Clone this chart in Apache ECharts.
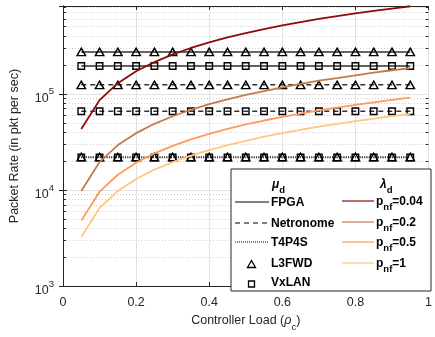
<!DOCTYPE html>
<html><head><meta charset="utf-8">
<script src="https://cdn.jsdelivr.net/npm/echarts@6/dist/echarts.min.js"></script>
<style>html,body{margin:0;padding:0;background:#fff}#c{width:435px;height:337px}</style>
</head><body><div id="c"></div>
<script>
// ---- data ----
const loads = [0.05,0.1,0.15,0.2,0.25,0.3,0.35,0.4,0.45,0.5,0.55,0.6,0.65,0.7,0.75,0.8,0.85,0.9,0.95];
const xTicks = [0, 0.2, 0.4, 0.6, 0.8, 1];
const yTicks = [1000, 10000, 100000];
// mu_d (service rate of switch), constant in controller load
const muNames = ['FPGA L3FWD','FPGA VxLAN','Netronome L3FWD','Netronome VxLAN','T4P4S L3FWD','T4P4S VxLAN'];
const muRates = [273000, 195000, 124000, 66000, 22000, 21800];
// lambda_d curves
const lamNames = ['p_nf=0.04','p_nf=0.2','p_nf=0.5','p_nf=1'];
const lamPnf004 = [43000,86000,129000,172000,214000,257000,300000,343000,386000,429000,472000,515000,558000,601000,643000,686000,729000,772000,815000];
const lamPnf02  = [9750,19500,29300,39000,48800,58500,68300,78000,87800,97500,107000,117000,127000,137000,146000,156000,166000,176000,185000];
const lamPnf05  = [4800,9600,14400,19200,24000,28800,33600,38400,43200,48000,52800,57600,62400,67200,72000,76800,81600,86400,91200];
const lamPnf1   = [3250,6500,9750,13000,16300,19500,22800,26000,29300,32500,35800,39000,42300,45500,48800,52000,55300,58500,61800];

const FONT = '"Liberation Sans", Arial, Helvetica, sans-serif';
const AX = '#262626';
const YMIN = 1000, YMAX = 820000;

const muStyles = [
  {type:'solid', symbol:'triangle'},
  {type:'solid', symbol:'rect'},
  {type:[5,4], symbol:'triangle'},
  {type:[5,4], symbol:'rect'},
  {type:[1,1.3], symbol:'triangle'},
  {type:[1,1.3], symbol:'rect'}
];
const lamColors = ['#8c0a0a','#c47a4b','#ff9a5c','#ffc77f'];
const lamData = [lamPnf004, lamPnf02, lamPnf05, lamPnf1];

// minor grid / tick positions
const minorVals = [];
for (let d = 1000; d < YMAX; d *= 10) for (let m = 2; m <= 9; m++) if (d*m < YMAX) minorVals.push(d*m);
const markData = [];
minorVals.forEach(v => {
  markData.push({yAxis: v, lineStyle: {color:'#cfcfcf', type:[1,2], width:1}});
});
minorVals.forEach(v => {
  markData.push([{coord:[0, v], lineStyle:{color:AX, type:'solid', width:1}}, {coord:[0.008, v]}]);
  markData.push([{coord:[0.992, v], lineStyle:{color:AX, type:'solid', width:1}}, {coord:[1, v]}]);
});

const series = [{
  type:'line', name:'grid', data:[[0.5, YMIN]], showSymbol:false, silent:true, z:0,
  lineStyle:{width:0, opacity:0},
  markLine:{silent:true, symbol:['none','none'], label:{show:false}, z:0, animation:false, data:markData}
}];
muNames.forEach((n, i) => {
  const st = muStyles[i];
  series.push({
    type:'line', name:n, data: loads.map(x => [x, muRates[i]]),
    symbol: st.symbol, symbolSize: st.symbol === 'triangle' ? [8.5,7.5] : 6.5,
    showAllSymbol:true, z:2,
    lineStyle:{color:'#333', width:1.5, type:st.type},
    itemStyle:{color:'rgba(0,0,0,0)', borderColor:'#000', borderWidth:1.4}
  });
});
lamNames.forEach((n, i) => {
  series.push({
    type:'line', name:n, data: loads.map((x, j) => [x, lamData[i][j]]),
    showSymbol:false, z:3,
    lineStyle:{color:lamColors[i], width:1.8}, itemStyle:{color:lamColors[i]}
  });
});

// legend (drawn as graphics)
const LX = 231, LY = 169, LW = 200, LH = 122;
const richSub = {
  a:{fontSize:12, fontWeight:'bold', fontFamily:FONT, color:'#000', lineHeight:14, verticalAlign:'top'},
  g:{fontSize:12, fontWeight:'bold', fontStyle:'italic', fontFamily:FONT, color:'#000', lineHeight:14, verticalAlign:'top'},
  s:{fontSize:9.5, fontWeight:'bold', fontFamily:FONT, color:'#000', lineHeight:10, padding:[6,0,0,0], verticalAlign:'top'}
};
function txt(x, y, rich) {
  return {type:'text', x:x, y:y, z:101, style:{text:rich, rich:richSub, fill:'#000', font:'bold 12px '+FONT, verticalAlign:'middle', align:'left'}};
}
function ln(x1, x2, y, color, dash, w) {
  return {type:'line', z:101, shape:{x1:x1, y1:y, x2:x2, y2:y}, style:{stroke:color, lineWidth:w, lineDash:dash}};
}
const legendEls = [
  {type:'rect', z:100, shape:{x:LX, y:LY, width:LW, height:LH}, style:{fill:'#fff', stroke:AX, lineWidth:1}},
  txt(272, 186, '{g|μ}{s|d}'),
  txt(380, 186, '{g|λ}{s|d}'),
  ln(235, 269, 202, '#000', null, 1.2), txt(271, 204, '{a|FPGA}'),
  ln(235, 269, 223, '#000', [5,4], 1.2), txt(271, 225, '{a|Netronome}'),
  ln(235, 269, 242, '#000', [1,1], 1), txt(271, 244, '{a|T4P4S}'),
  {type:'polygon', z:101, shape:{points:[[251.5,260.5],[255.5,267.5],[247.5,267.5]]}, style:{fill:'none', stroke:'#000', lineWidth:1.3}},
  txt(271, 265, '{a|L3FWD}'),
  {type:'rect', z:101, shape:{x:248.5, y:281, width:6, height:6}, style:{fill:'none', stroke:'#000', lineWidth:1.3}},
  txt(271, 284, '{a|VxLAN}')
];
const lamYs = [201, 222, 242, 263];
lamNames.forEach((n, i) => {
  legendEls.push(ln(342, 374, lamYs[i], lamColors[i], null, 1.2));
  legendEls.push(txt(376, lamYs[i] + 2, '{a|p}{s|nf}{a|=' + n.split('=')[1] + '}'));
});

const supRich = {
  b:{fontSize:12.5, fontFamily:FONT, color:AX, lineHeight:14, padding:[5,0,0,0], verticalAlign:'top'},
  s:{fontSize:9.5, fontFamily:FONT, color:AX, lineHeight:10, verticalAlign:'top'}
};

const option = {
  animation:false,
  textStyle:{fontFamily:FONT},
  grid:{left:58, top:6, width:373, height:285, containLabel:false},
  xAxis:[{
    type:'value', min:xTicks[0], max:xTicks[xTicks.length-1], interval:0.2,
    name:'{a|Controller Load (}{i|ρ}{c|c}{a|)}', nameLocation:'middle', nameGap:27,
    nameTextStyle:{rich:{
      a:{fontSize:12.5, color:AX, fontFamily:FONT, lineHeight:15, verticalAlign:'top'},
      i:{fontSize:12.5, color:AX, fontFamily:FONT, fontStyle:'italic', lineHeight:15, verticalAlign:'top'},
      c:{fontSize:9.5, color:AX, fontFamily:FONT, lineHeight:10, padding:[8,0,0,0], verticalAlign:'top'}
    }},
    axisLine:{lineStyle:{color:AX, width:1}},
    axisTick:{inside:true, length:4, lineStyle:{color:AX}},
    axisLabel:{color:AX, fontSize:12.5, margin:10, formatter: v => String(+v.toFixed(1))},
    splitLine:{show:true, lineStyle:{color:'#e3e3e3', width:1}}
  },{
    type:'value', position:'top', min:0, max:1, interval:0.2,
    axisLine:{show:true, lineStyle:{color:AX, width:1}},
    axisTick:{inside:true, length:4, lineStyle:{color:AX}},
    axisLabel:{show:false}, splitLine:{show:false}
  }],
  yAxis:[{
    type:'log', logBase:10, min:YMIN, max:YMAX,
    name:'Packet Rate (in pkt per sec)', nameLocation:'middle', nameGap:42, nameRotate:90,
    nameTextStyle:{fontSize:12.5, color:AX, fontFamily:FONT},
    axisLine:{show:true, lineStyle:{color:AX, width:1}},
    axisTick:{inside:true, length:4, lineStyle:{color:AX}},
    axisLabel:{color:AX, margin:9, rich:supRich, formatter: v => {
      const e = Math.log10(v), r = Math.round(e);
      return (Math.abs(e - r) < 1e-6 && yTicks.indexOf(Math.pow(10, r)) >= 0) ? '{b|10}{s|' + r + '}' : '';
    }},
    splitLine:{show:true, lineStyle:{color:'#e3e3e3', width:1}}
  },{
    type:'log', logBase:10, min:YMIN, max:YMAX, position:'right',
    axisLine:{show:true, lineStyle:{color:AX, width:1}},
    axisTick:{inside:true, length:4, lineStyle:{color:AX}},
    axisLabel:{show:false}, splitLine:{show:false}
  }],
  series: series,
  graphic:{elements:legendEls}
};
const chart = echarts.init(document.getElementById('c'), null, {renderer:'canvas'});
chart.setOption(option);
</script></body></html>
